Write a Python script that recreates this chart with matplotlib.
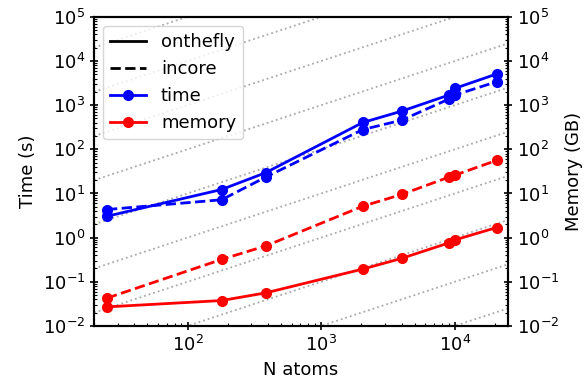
import matplotlib
matplotlib.use("Agg")
import matplotlib.pyplot as plt

# values
n_atoms = [25, 180, 384, 2048, 4000, 9000, 10000, 20500]
time_onthefly = [3.05, 12.3, 29.5, 405, 731, 1690, 2400, 5070]
time_incore = [4.33, 7.2, 23.4, 280, 457, 1370, 1690, 3390]
mem_onthefly = [0.027, 0.0376, 0.056, 0.194, 0.339, 0.758, 0.887, 1.69]
mem_incore = [0.0427, 0.321, 0.647, 5.14, 9.5, 23.4, 26, 56]

# linear-scaling guide lines y = 10^k * x
guide_exponents = list(range(-7, 5))
guide_x = [20, 25000]

plt.rcParams["font.size"] = 13

fig, ax = plt.subplots(figsize=(5.88, 3.83), dpi=100)
fig.subplots_adjust(left=0.16, right=0.864, top=0.956, bottom=0.149)
ax2 = ax.twinx()

for k in guide_exponents:
    ax.plot(guide_x, [10.0**k * x for x in guide_x], ls=":", color="#aaaaaa", lw=1.3, zorder=0)

ax.plot(n_atoms, time_onthefly, "-o", color="blue", lw=2, ms=7)
ax.plot(n_atoms, time_incore, "--o", color="blue", lw=2, ms=7)
ax2.plot(n_atoms, mem_onthefly, "-o", color="red", lw=2, ms=7)
ax2.plot(n_atoms, mem_incore, "--o", color="red", lw=2, ms=7)

for a in (ax, ax2):
    a.set_xscale("log")
    a.set_yscale("log")
    a.set_ylim(1e-2, 1e5)
    a.set_xlim(20, 25000)
    a.tick_params(which="major", direction="inout", length=6, width=1.2)
    a.tick_params(which="minor", direction="in", length=2.5, width=0.8)
    for s in a.spines.values():
        s.set_linewidth(1.5)

ax.set_xlabel("N atoms")
ax.set_ylabel("Time (s)")
ax2.set_ylabel("Memory (GB)")

handles = [
    plt.Line2D([], [], color="black", lw=2, ls="-"),
    plt.Line2D([], [], color="black", lw=2, ls="--"),
    plt.Line2D([], [], color="blue", lw=2, marker="o", ms=7),
    plt.Line2D([], [], color="red", lw=2, marker="o", ms=7),
]
ax2.legend(handles, ["onthefly", "incore", "time", "memory"], loc="upper left")

fig.savefig("out.png", dpi=100)
